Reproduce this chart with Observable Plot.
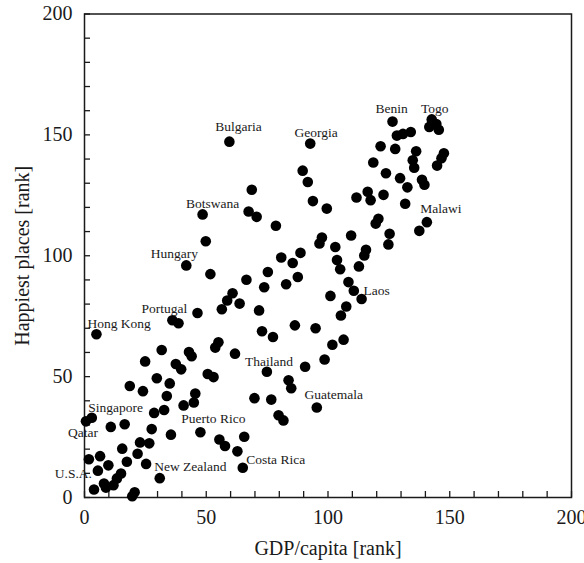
<!DOCTYPE html>
<html><head><meta charset="utf-8">
<script src="https://cdn.jsdelivr.net/npm/d3@7"></script>
<script src="https://cdn.jsdelivr.net/npm/@observablehq/plot@0.6"></script>
<style>body{margin:0;background:#fff}</style>
</head><body><div id="chart"></div>
<script>
// Unlabelled countries: GDP/capita rank and happiest-places rank
const gdpRank = [46.4,56.4,58.6,63.7,71.7,38.6,72.9,77.4,55.0,53.7,31.7,42.9,44.0,61.8,24.9,37.5,39.7,50.6,53.0,29.7,35.0,18.6,24.0,45.5,33.8,69.8,76.7,40.7,44.9,32.7,28.6,10.8,16.5,27.6,35.5,55.4,57.7,65.6,62.8,22.8,26.6,15.5,21.8,1.8,6.4,17.4,9.8,25.3,15.0,13.3,8.0,11.9,8.8,3.9,20.6,19.6,107.5,105.3,86.4,94.9,106.4,101.8,98.6,90.6,83.8,84.9,79.7,81.7,89.6,91.7,68.7,93.8,99.5,67.4,70.7,78.6,49.8,97.5,96.5,103.0,109.5,88.7,80.8,85.5,103.7,105.0,51.7,75.3,87.6,66.5,82.8,73.8,108.4,60.8,101.0,110.6,141.6,144.5,145.5,128.3,130.8,134.0,121.6,127.6,136.2,134.8,135.4,147.6,146.6,144.8,118.6,123.8,129.6,132.6,138.6,139.6,111.7,116.3,117.5,122.8,131.7,137.5,120.7,119.6,125.3,124.8,115.6,114.9,112.7];
const happyRank = [76.3,77.9,81.5,80.2,77.4,72.1,68.8,66.4,64.2,62.0,61.0,60.2,58.4,59.5,56.3,55.2,53.0,51.1,49.8,49.3,47.2,46.1,44.0,43.0,42.0,41.1,40.5,38.1,39.3,36.2,35.0,29.2,30.3,28.3,26.0,24.0,21.3,25.1,19.1,22.8,22.4,20.2,18.1,15.8,17.1,14.8,13.3,13.9,9.9,7.9,5.8,5.1,4.1,3.3,2.2,0.5,79.0,75.3,71.2,70.0,65.3,63.2,57.1,54.1,48.5,45.2,34.0,31.9,135.2,130.5,127.3,122.6,119.5,118.3,116.1,112.4,106.0,107.5,105.1,103.6,108.4,101.2,99.3,97.0,98.2,94.4,92.4,93.3,91.2,90.1,88.2,87.0,89.1,84.5,83.4,85.5,153.3,154.5,152.1,149.7,150.4,151.2,145.3,144.2,143.2,139.5,136.4,142.4,140.3,137.3,138.6,134.1,132.1,128.3,131.4,129.4,124.1,126.5,123.0,125.2,121.5,110.3,115.3,113.3,109.1,104.7,102.5,100.1,95.6];

// Labelled countries
const labeledCountries = ["Bulgaria","Georgia","Benin","Togo","Botswana","Hungary","Malawi","Laos","Portugal","Hong Kong","Thailand","Singapore","Qatar","Puerto Rico","Guatemala","Costa Rica","New Zealand","U.S.A."];
const labeledGdp   = [59.5,92.7,126.5,142.6,48.5,41.8,140.6,113.8,36.1,4.9,74.9,3.0,0.6,47.6,95.4,65.0,30.9,5.5];
const labeledHappy = [147.2,146.4,155.5,156.4,117.1,96.0,113.9,82.1,73.3,67.5,52.0,33.0,31.5,27.0,37.2,12.3,8.0,11.1];

const xTickLabels = [0,50,100,150,200];
const yTickLabels = [0,50,100,150,200];
const minorTicks = [0,10,20,30,40,50,60,70,80,90,100,110,120,130,140,150,160,170,180,190,200];
const xTitle = "GDP/capita [rank]";
const yTitle = "Happiest places [rank]";

// label placement (pixel offsets from the point)
const labelStyle = {
  "Bulgaria":   {dx: 9,   dy: -15, anchor: "middle"},
  "Georgia":    {dx: 6,   dy: -11, anchor: "middle"},
  "Benin":      {dx: -1,  dy: -13, anchor: "middle"},
  "Togo":       {dx: 3,   dy: -11, anchor: "middle"},
  "Botswana":   {dx: 10,  dy: -11, anchor: "middle"},
  "Hungary":    {dx: -12, dy: -12, anchor: "middle"},
  "Malawi":     {dx: 14,  dy: -13, anchor: "middle"},
  "Laos":       {dx: 2,   dy: -8,  anchor: "start"},
  "Portugal":   {dx: -8,  dy: -12, anchor: "middle"},
  "Hong Kong":  {dx: -9,  dy: -11, anchor: "start"},
  "Thailand":   {dx: 2,   dy: -10, anchor: "middle"},
  "Singapore":  {dx: -3.5,dy: -10, anchor: "start"},
  "Qatar":      {dx: -3,  dy: 11,  anchor: "middle"},
  "Puerto Rico":{dx: 13,  dy: -14, anchor: "middle"},
  "Guatemala":  {dx: 17,  dy: -13, anchor: "middle"},
  "Costa Rica": {dx: 3.5, dy: -8,  anchor: "start"},
  "New Zealand":{dx: -5.5,dy: -11, anchor: "start"},
  "U.S.A.":     {dx: -6,  dy: 3.5, anchor: "end"}
};

const points = gdpRank.map((g, i) => ({gdp: g, happy: happyRank[i]}))
  .concat(labeledCountries.map((c, i) => ({gdp: labeledGdp[i], happy: labeledHappy[i]})));
const labels = labeledCountries.map((c, i) => ({name: c, gdp: labeledGdp[i], happy: labeledHappy[i]}));

const ink = "#1a1a1a";

const labelMarks = labels.map(d => {
  const s = labelStyle[d.name];
  return Plot.text([d], {x: "gdp", y: "happy", text: "name", dx: s.dx, dy: s.dy,
    textAnchor: s.anchor, fontSize: 13.5, fill: ink});
});

const chart = Plot.plot({
  width: 584, height: 563,
  marginLeft: 84, marginRight: 13, marginTop: 13.5, marginBottom: 66,
  x: {domain: [0, 200]},
  y: {domain: [0, 200]},
  style: {fontFamily: "'Liberation Serif', 'Times New Roman', serif", background: "#fff", color: ink},
  marks: [
    Plot.frame({stroke: ink, strokeWidth: 1.5}),
    // inward minor ticks every 10
    Plot.axisX(minorTicks, {tickSize: -6, tickPadding: 0, tickFormat: () => "", stroke: ink, strokeWidth: 1.3, label: null}),
    Plot.axisY(minorTicks, {tickSize: -6, tickPadding: 0, tickFormat: () => "", stroke: ink, strokeWidth: 1.3, label: null}),
    // tick labels
    Plot.axisX(xTickLabels, {tickSize: 0, tickPadding: 12, fontSize: 20, label: null}),
    Plot.axisY(yTickLabels, {tickSize: 0, tickPadding: 12, fontSize: 20, label: null}),
    Plot.dot(points, {x: "gdp", y: "happy", r: 5.3, fill: "black", stroke: null}),
    ...labelMarks,
    Plot.text([xTitle], {frameAnchor: "bottom", dy: 51, lineAnchor: "middle", textAnchor: "middle", fontSize: 20, fill: ink}),
    Plot.text([yTitle], {frameAnchor: "left", dx: -62, rotate: -90, textAnchor: "middle", lineAnchor: "middle", fontSize: 20, fill: ink})
  ]
});
document.getElementById("chart").appendChild(chart);
</script>
</body></html>
